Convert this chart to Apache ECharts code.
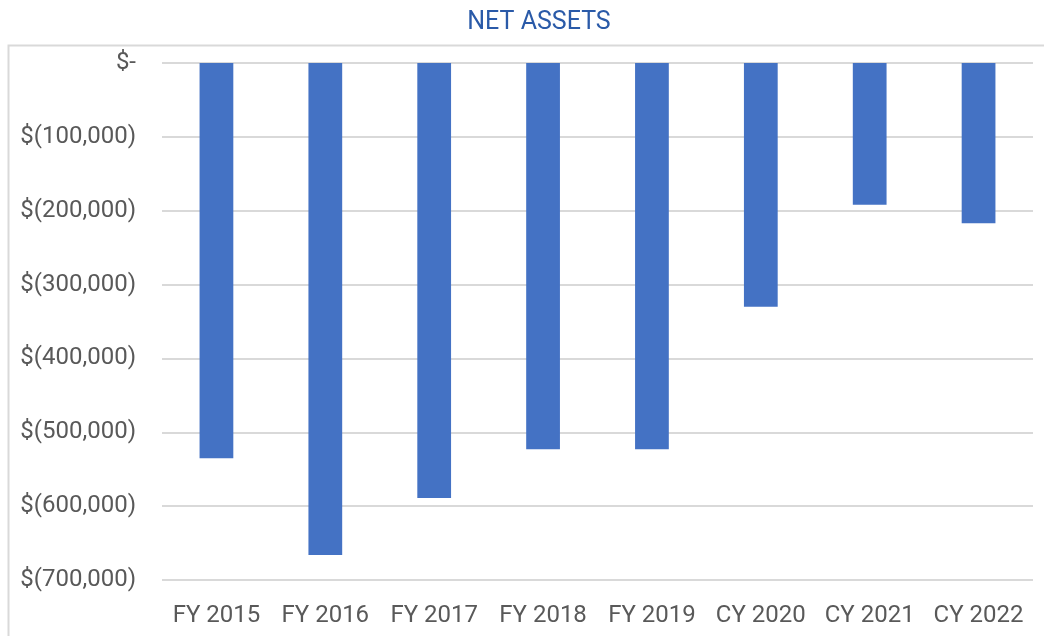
<!DOCTYPE html>
<html>
<head>
<meta charset="utf-8">
<script src="https://cdn.jsdelivr.net/npm/echarts@6/dist/echarts.min.js"></script>
<style>
  html, body { margin: 0; padding: 0; background: #fff; }
  #main { width: 1044px; height: 636px; }
</style>
</head>
<body>
<div id="main"></div>
<script>
// categories and values (net assets, negative)
var years = ['FY 2015', 'FY 2016', 'FY 2017', 'FY 2018', 'FY 2019', 'CY 2020', 'CY 2021', 'CY 2022'];
var netAssets = [-535000, -666000, -589000, -523000, -523000, -330000, -192000, -217000];
var yTicks = [0, -100000, -200000, -300000, -400000, -500000, -600000, -700000];

function money(v) {
  if (v === 0) return '$-';
  var s = Math.abs(v).toString().replace(/\B(?=(\d{3})+(?!\d))/g, ',');
  return v < 0 ? '$(' + s + ')' : '$' + s;
}

var myChart = echarts.init(document.getElementById('main'));
myChart.setOption({
  animation: false,
  title: {
    text: 'NET ASSETS',
    left: 534,
    textAlign: 'center',
    top: 5,
    textStyle: { color: '#2a5aa8', fontFamily: 'Roboto', fontWeight: 'normal', fontSize: 25 }
  },
  graphic: [{
    type: 'rect',
    shape: { x: 8.5, y: 45.5, width: 1100, height: 700 },
    style: { fill: null, stroke: '#d9d9d9', lineWidth: 2 },
    silent: true
  }],
  grid: { left: 162, right: 11, top: 63, bottom: 56, containLabel: false },
  xAxis: {
    type: 'category',
    data: years,
    position: 'bottom',
    axisLine: { show: false },
    axisTick: { show: false },
    axisLabel: { color: '#595959', fontFamily: 'Roboto', fontSize: 24, margin: 24, interval: 0, hideOverlap: false }
  },
  yAxis: {
    type: 'value',
    min: yTicks[yTicks.length - 1],
    max: yTicks[0],
    interval: 100000,
    axisLine: { show: false },
    axisTick: { show: false },
    splitLine: { lineStyle: { color: '#d9d9d9', width: 2 } },
    axisLabel: { color: '#595959', fontFamily: 'Roboto', fontSize: 24, margin: 26, formatter: money }
  },
  series: [{
    type: 'bar',
    data: netAssets,
    barWidth: '31%',
    itemStyle: { color: '#4472c4' }
  }]
});
</script>
</body>
</html>
